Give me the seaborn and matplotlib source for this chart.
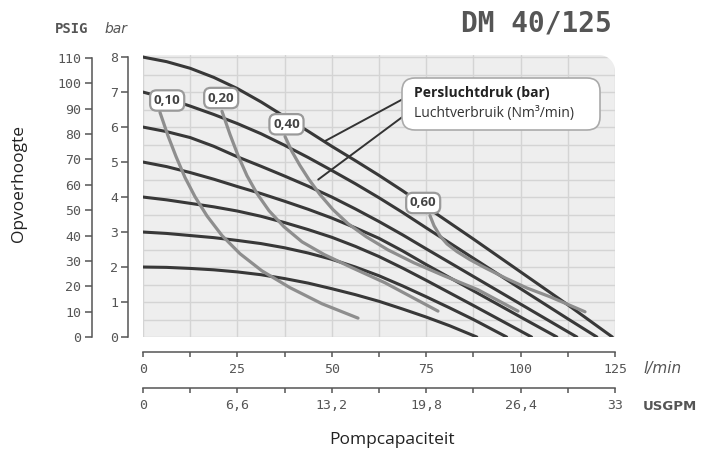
import numpy as np
import pandas as pd
import seaborn as sns
import matplotlib.pyplot as plt
from matplotlib.patches import FancyBboxPatch, Polygon
from matplotlib.ticker import MultipleLocator

# Persluchtdruk curves: flow (l/min) and head (bar)
p2_flow = [0, 6.25, 12.5, 18.75, 25, 31.25, 37.5, 43.75, 50, 56.25, 62.5, 68.75, 75, 81.25, 88.4]
p2_head = [2.0, 1.99, 1.96, 1.92, 1.86, 1.78, 1.67, 1.54, 1.38, 1.21, 1.02, 0.8, 0.57, 0.32, 0]
p3_flow = [0, 6.25, 12.5, 18.75, 25, 31.25, 37.5, 43.75, 50, 56.25, 62.5, 68.75, 75, 81.25, 87.5, 96.3]
p3_head = [3.0, 2.96, 2.9, 2.84, 2.76, 2.67, 2.55, 2.4, 2.22, 2.0, 1.75, 1.46, 1.15, 0.83, 0.5, 0]
p4_flow = [0, 6.25, 12.5, 18.75, 25, 31.25, 37.5, 43.75, 50, 56.25, 62.5, 68.75, 75, 87.5, 100, 102.9]
p4_head = [4.0, 3.92, 3.82, 3.72, 3.6, 3.45, 3.27, 3.07, 2.85, 2.59, 2.3, 1.97, 1.62, 0.9, 0.17, 0]
p5_flow = [0, 6.25, 12.5, 18.75, 25, 31.25, 37.5, 43.75, 50, 56.25, 62.5, 68.75, 75, 87.5, 100, 109.6]
p5_head = [5.0, 4.87, 4.7, 4.51, 4.3, 4.1, 3.88, 3.65, 3.4, 3.12, 2.82, 2.46, 2.07, 1.32, 0.57, 0]
p6_flow = [0, 6.25, 12.5, 18.75, 25, 31.25, 37.5, 43.75, 50, 56.25, 62.5, 68.75, 75, 87.5, 100, 112.5, 114.9]
p6_head = [6.0, 5.87, 5.7, 5.45, 5.15, 4.88, 4.6, 4.31, 4.0, 3.66, 3.3, 2.92, 2.52, 1.73, 0.94, 0.15, 0]
p7_flow = [0, 6.25, 12.5, 18.75, 25, 31.25, 37.5, 43.75, 50, 56.25, 62.5, 68.75, 75, 87.5, 100, 112.5, 120.2]
p7_head = [7.0, 6.82, 6.6, 6.36, 6.1, 5.81, 5.48, 5.13, 4.76, 4.38, 3.98, 3.56, 3.12, 2.25, 1.38, 0.52, 0]
p8_flow = [0, 6.25, 12.5, 18.75, 25, 31.25, 37.5, 43.75, 50, 56.25, 62.5, 68.75, 75, 87.5, 100, 112.5, 124.3]
p8_head = [8.0, 7.87, 7.68, 7.42, 7.1, 6.72, 6.3, 5.88, 5.45, 5.04, 4.62, 4.18, 3.72, 2.8, 1.86, 0.92, 0]

# Luchtverbruik curves (Nm3/min)
a010_flow = [4.5, 6.62, 8.74, 11.12, 13.77, 16.95, 20.92, 25.69, 31.51, 38.93, 47.4, 56.94]
a010_head = [6.42, 5.75, 5.16, 4.56, 4.01, 3.46, 2.9, 2.38, 1.89, 1.41, 0.95, 0.54]
a020_flow = [20.92, 23.04, 25.16, 27.54, 30.19, 33.37, 37.34, 42.11, 47.93, 55.35, 64.09, 78.12]
a020_head = [6.45, 5.79, 5.19, 4.61, 4.1, 3.61, 3.15, 2.72, 2.36, 1.98, 1.55, 0.74]
a040_flow = [37.61, 39.46, 41.58, 43.96, 46.88, 50.32, 54.29, 59.06, 64.88, 71.77, 79.71, 88.72, 99.31]
a040_head = [5.73, 5.3, 4.9, 4.5, 4.07, 3.64, 3.24, 2.87, 2.49, 2.12, 1.75, 1.35, 0.74]
a060_flow = [76.0, 77.07, 78.66, 80.51, 83.16, 86.6, 90.57, 95.87, 101.69, 107.79, 117.06]
a060_head = [3.47, 3.18, 2.89, 2.66, 2.44, 2.21, 1.98, 1.69, 1.4, 1.15, 0.72]

air_labels = ["0,10", "0,20", "0,40", "0,60"]
label_flow = [6.4, 20.7, 38.0, 74.2]
label_head = [6.76, 6.83, 6.08, 3.83]

bar_ticks = [0, 1, 2, 3, 4, 5, 6, 7, 8]
psig_ticks = [0, 10, 20, 30, 40, 50, 60, 70, 80, 90, 100, 110]
lmin_ticks = [0, 25, 50, 75, 100, 125]
usgpm_ticks = [0, 6.6, 13.2, 19.8, 26.4, 33]
usgpm_labels = ["0", "6,6", "13,2", "19,8", "26,4", "33"]

pressure = pd.concat([
    pd.DataFrame({"flow": f, "head": h, "curve": n})
    for n, (f, h) in enumerate([(p2_flow, p2_head), (p3_flow, p3_head), (p4_flow, p4_head),
                                (p5_flow, p5_head), (p6_flow, p6_head), (p7_flow, p7_head),
                                (p8_flow, p8_head)])
])
air = pd.concat([
    pd.DataFrame({"flow": f, "head": h, "curve": n})
    for n, (f, h) in enumerate([(a010_flow, a010_head), (a020_flow, a020_head),
                                (a040_flow, a040_head), (a060_flow, a060_head)])
])

sns.set_style("white")
plt.rcParams["font.family"] = ["DejaVu Sans"]
mono = "DejaVu Sans Mono"
grey = "#555555"

fig = plt.figure(figsize=(7.09, 4.55), dpi=100)
ax = fig.add_axes([143 / 709, 1 - 337 / 455, 472 / 709, 282 / 455])

sns.lineplot(data=pressure, x="flow", y="head", units="curve", estimator=None, sort=False,
             color="#383838", lw=2.2, ax=ax, solid_capstyle="round", solid_joinstyle="round", zorder=2)
sns.lineplot(data=air, x="flow", y="head", units="curve", estimator=None, sort=False,
             color="#8e8e8e", lw=2.3, ax=ax, solid_capstyle="round", solid_joinstyle="round", zorder=3)

ax.set_xlim(0, 125)
ax.set_ylim(0, 8.06)
ax.set_xlabel("")
ax.set_ylabel("")
ax.set_facecolor("#eeeeee")
ax.set_axisbelow(True)
ax.set_xticks(lmin_ticks)
ax.set_xticklabels([str(t) for t in lmin_ticks])
ax.xaxis.set_minor_locator(MultipleLocator(12.5))
ax.set_yticks(bar_ticks)
ax.yaxis.set_minor_locator(MultipleLocator(0.5))
ax.grid(True, which="both", color="#d4d4d4", lw=1.0)
ax.spines[["top", "right"]].set_visible(False)
ax.spines["left"].set_position(("outward", 10.8))
ax.spines["bottom"].set_position(("outward", 10.8))
ax.spines["left"].set_bounds(0, 8)
ax.spines["bottom"].set_bounds(0, 125)
for s in ["left", "bottom"]:
    ax.spines[s].set_color(grey)
    ax.spines[s].set_linewidth(1.1)
ax.tick_params(axis="y", which="major", length=5, width=1.1, color=grey,
               labelcolor=grey, labelsize=9.5, pad=2)
ax.tick_params(axis="y", which="minor", length=0)
ax.tick_params(axis="x", which="both", length=3.6, width=1.1, color=grey,
               labelcolor=grey, labelsize=9.5, pad=4)

# rounded top-right corner of the panel
rx, ry = 16 / 472, 16 / 282
t = np.linspace(0, np.pi / 2, 20)
corner = [(1, 1), (1, 1 - ry)] + list(zip(1 - rx + rx * np.cos(t), 1 - ry + ry * np.sin(t))) + [(1 - rx, 1)]
ax.add_patch(Polygon(corner, closed=True, fc="white", ec="none", transform=ax.transAxes,
                     zorder=1, clip_on=False))

# PSIG axis
ax2 = ax.twinx()
ax2.set_ylim(0, 111.18)
ax2.yaxis.tick_left()
ax2.set_yticks(psig_ticks)
ax2.spines[["top", "right", "bottom"]].set_visible(False)
ax2.spines["left"].set_position(("outward", 36.7))
ax2.spines["left"].set_bounds(0, 110)
ax2.spines["left"].set_color(grey)
ax2.spines["left"].set_linewidth(1.1)
ax2.tick_params(axis="y", length=5, width=1.1, color=grey, labelcolor=grey, labelsize=9.5, pad=3)
ax2.grid(False)

# USGPM axis
ax3 = ax.twiny()
ax3.set_xlim(0, 33)
ax3.xaxis.tick_bottom()
ax3.set_xticks(usgpm_ticks)
ax3.set_xticklabels(usgpm_labels)
ax3.xaxis.set_minor_locator(MultipleLocator(3.3))
ax3.spines[["top", "right", "left"]].set_visible(False)
ax3.spines["bottom"].set_position(("outward", 36.7))
ax3.spines["bottom"].set_bounds(0, 33)
ax3.spines["bottom"].set_color(grey)
ax3.spines["bottom"].set_linewidth(1.1)
ax3.tick_params(axis="x", which="both", length=3.6, width=1.1, color=grey,
                labelcolor=grey, labelsize=9.5, pad=4)
ax3.grid(False)

for lbl in ax.get_xticklabels() + ax.get_yticklabels() + ax2.get_yticklabels() + ax3.get_xticklabels():
    lbl.set_family(mono)

# air consumption labels
for txt, x, y in zip(air_labels, label_flow, label_head):
    ax.text(x, y, txt, ha="center", va="center", fontsize=9.5, fontweight="bold",
            family="Open Sans", color="#444444", zorder=6,
            bbox=dict(boxstyle="round,pad=0.28,rounding_size=0.5", fc="white",
                      ec="#9a9a9a", lw=1.6))

# leader lines from the legend box
ax.annotate("", xy=(48.2, 5.6), xytext=(70.2, 6.88),
            arrowprops=dict(arrowstyle="-", color="#333333", lw=1.4, shrinkA=0, shrinkB=0))
ax.annotate("", xy=(46.4, 4.5), xytext=(70.2, 6.41),
            arrowprops=dict(arrowstyle="-", color="#333333", lw=1.4, shrinkA=0, shrinkB=0))

box = FancyBboxPatch((4.02, 3.25), 1.98, 0.52, boxstyle="round,pad=0,rounding_size=0.13",
                     fc="white", ec="#aaaaaa", lw=1.2, transform=fig.dpi_scale_trans, zorder=5)
fig.add_artist(box)
fig.text(4.14, 3.62, "Persluchtdruk (bar)", transform=fig.dpi_scale_trans, va="center",
         fontsize=10, fontweight="bold", family="Open Sans", color="#222222", zorder=6)
fig.text(4.14, 3.42, "Luchtverbruik (Nm³/min)", transform=fig.dpi_scale_trans, va="center",
         fontsize=10, family="Open Sans", color="#333333", zorder=6)

# texts around the chart
fig.text(612 / 709, 1 - 24 / 455, "DM 40/125", ha="right", va="center", fontsize=20,
         fontweight="bold", family=mono, color=grey)
fig.text(72 / 709, 1 - 29 / 455, "PSIG", ha="center", va="center", fontsize=10,
         fontweight="bold", family=mono, color=grey)
fig.text(116 / 709, 1 - 29 / 455, "bar", ha="center", va="center", fontsize=10,
         style="italic", color=grey)
fig.text(643 / 709, 1 - 368 / 455, "l/min", ha="left", va="center", fontsize=11,
         style="italic", color=grey)
fig.text(643 / 709, 1 - 407 / 455, "USGPM", ha="left", va="center", fontsize=9.5,
         fontweight="bold", color=grey)
fig.text(19 / 709, 1 - 184 / 455, "Opvoerhoogte", rotation=90, ha="center", va="center",
         fontsize=12.5, family="Open Sans", color="#222222")
fig.text(392 / 709, 1 - 440 / 455, "Pompcapaciteit", ha="center", va="center",
         fontsize=12.5, family="Open Sans", color="#222222")

fig.savefig("out.png", dpi=100)
